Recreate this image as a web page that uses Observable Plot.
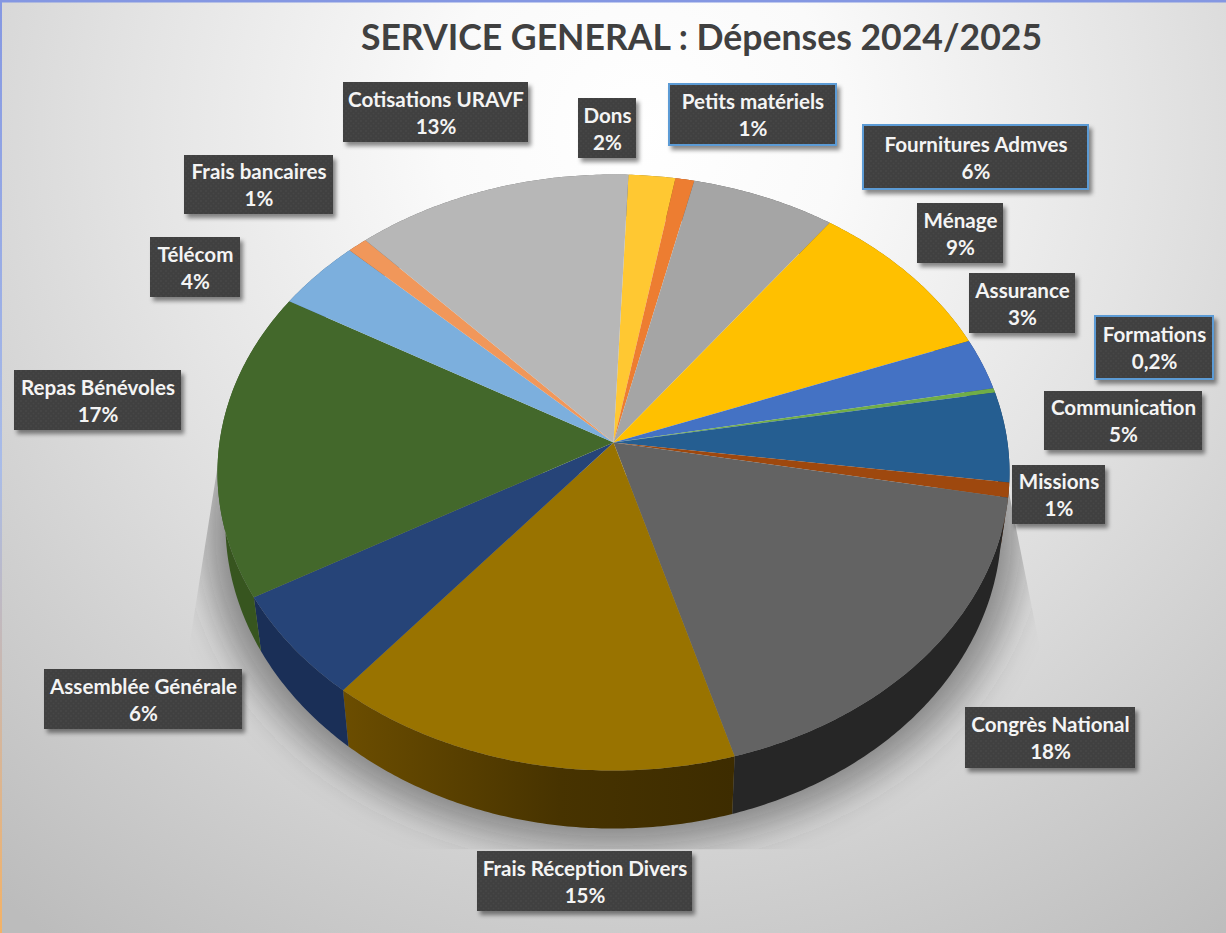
<!DOCTYPE html>
<html lang="fr">
<head>
<meta charset="utf-8">
<script src="https://cdn.jsdelivr.net/npm/d3@7"></script>
<script src="https://cdn.jsdelivr.net/npm/@observablehq/plot@0.6"></script>
<style>
html,body{margin:0;padding:0;background:#fff}
svg{display:block}
</style>
</head>
<body>
<div id="chart"></div>
<script>
// ---- Data (clockwise, starting with Dons) ----
const categories = ["Dons","Petits matériels","Fournitures Admves","Ménage","Assurance","Formations","Communication","Missions","Congrès National","Frais Réception Divers","Assemblée Générale","Repas Bénévoles","Télécom","Frais bancaires","Cotisations URAVF"];
const shares = [2.1,0.85,6.5,9.1,2.8,0.25,4.9,0.8,17.6,15.4,5.8,16.7,3.9,0.9,12.5];
const shareLabels = ["2%","1%","6%","9%","3%","0,2%","5%","1%","18%","15%","6%","17%","4%","1%","13%"];
const titleText = "SERVICE GENERAL : Dépenses 2024/2025";

// ---- Styles ----
const topColors = ["#ffc832","#ed7d31","#a5a5a5","#ffc000","#4472c4","#70ad47","#255e91","#9e480e","#636363","#997300","#264478","#43682b","#7cafdd","#f1975a","#b7b7b7"];
const wallColors = ["#8a6c1a","#8a4a1d","#5c5c5c","#8a6800","#27427a","#3f6328","#163a5c","#5e2a08","#262626","url(#wallFrais)","#1a2f57","#37551f","#486a87","#8a5734","#6a6a6a"];
const outlined = new Set(["Petits matériels","Fournitures Admves","Formations"]);

// ---- Layout: label box edges [left, top, right, bottom], in page pixels ----
const labelBoxes = [[578,98,636,158],[669,84,836,145],[863,125,1088,189],[917,203,1003,263],[969,273,1075,333],[1095,316,1213,379],[1044,391,1202,450],[1012,465,1105,524],[965,707,1135,768],[477,851,692,911],[44,669,242,729],[14,370,181,430],[150,237,240,297],[184,155,333,214],[343,82,528,142]];

// ---- Tilted-disc projection of the pie ----
const centre = {x:613, y:442}, a = 394, b = 295, k = 0.1007, startAngle = 2.4 * Math.PI / 180;
const rim = (t) => {
  const u = Math.sin(t), v = -Math.cos(t), w = 1 - k * v;
  return {v, x: centre.x + a * u / w, y: centre.y + b * v / w};
};
const lower = (t) => {
  const p = rim(t);
  return {x: centre.x + (p.x - centre.x) * 0.98, y: p.y + 50 + 8 * p.v};
};
const arcs = d3.pie().sort(null).startAngle(startAngle).endAngle(startAngle + 2 * Math.PI)(shares);
const steps = (s, e) => { const n = Math.max(2, Math.ceil((e - s) / 0.01)); return d3.range(n + 1).map(i => s + (e - s) * i / n); };

const topPts = [], wallPts = [];
arcs.forEach((d, i) => {
  const name = categories[i], ts = steps(d.startAngle, d.endAngle);
  topPts.push({name, x: centre.x, y: centre.y});
  ts.forEach(t => { const p = rim(t); topPts.push({name, x: p.x, y: p.y}); });
  ts.forEach(t => { const p = rim(t); wallPts.push({name, i, x: p.x, y: p.y}); });
  ts.slice().reverse().forEach(t => { const p = lower(t); wallPts.push({name, i, x: p.x, y: p.y}); });
});
const shadowPts = steps(0, 2 * Math.PI).map(t => {
  const p = lower(t);
  return {x: centre.x + (p.x - centre.x) * 1.05, y: centre.y + (p.y - centre.y) * 1.03 + 6};
});

const labels = categories.map((name, i) => {
  const [l, t, r, bt] = labelBoxes[i];
  return {name, l, t, r, b: bt, cx: (l + r) / 2, cy: (t + bt) / 2 - 1, text: name + "\n" + shareLabels[i]};
});

const withAttrs = (attrs) => (index, scales, values, dims, ctx, next) => {
  const g = next(index, scales, values, dims, ctx);
  for (const [k2, v] of Object.entries(attrs)) g.setAttribute(k2, v);
  return g;
};

const svg = Plot.plot({
  width: 1226, height: 933,
  margin: 0,
  x: {type: "linear", domain: [0, 1226], range: [0, 1226], axis: null},
  y: {type: "linear", domain: [0, 933], range: [0, 933], axis: null},
  color: {type: "ordinal", domain: categories, range: topColors},
  style: {background: "#fff", fontFamily: "Lato, sans-serif"},
  marks: [
    Plot.frame({fill: "url(#bg)", stroke: "none"}),
    Plot.line(shadowPts, {x: "x", y: "y", fill: "#3a3a3a", fillOpacity: 0.5, stroke: "none", render: withAttrs({filter: "url(#blurShadow)", "clip-path": "url(#shadowClip)"})}),
    Plot.line(wallPts, {x: "x", y: "y", z: "name", stroke: "none", fill: {value: d => wallColors[d.i], scale: null}}),
    Plot.line(topPts, {x: "x", y: "y", z: "name", stroke: "none", fill: "name"}),
    Plot.rect(labels, {x1: "l", x2: "r", y1: "t", y2: "b", fill: "url(#dots)", stroke: {value: d => outlined.has(d.name) ? "#5b9bd5" : "none", scale: null}, strokeWidth: 2, render: withAttrs({filter: "url(#boxShadow)"})}),
    Plot.text(labels, {x: "cx", y: "cy", text: "text", fill: "#f4f4f4", fontSize: 20.6, fontWeight: 700, lineHeight: 1.32, textAnchor: "middle"}),
    Plot.text([titleText], {x: () => 701, y: () => 38, text: d => d, fill: "#404040", fontSize: 35.6, fontWeight: 700, textAnchor: "middle"}),
    Plot.frame({anchor: "top", stroke: "#8497e2", strokeWidth: 4}),
    Plot.frame({anchor: "left", stroke: "url(#edge)", strokeWidth: 3})
  ]
});

const defs = document.createElementNS("http://www.w3.org/2000/svg", "defs");
defs.innerHTML = `
<radialGradient id="bg" gradientUnits="userSpaceOnUse" cx="640" cy="130" r="1000">
  <stop offset="0" stop-color="#ffffff"/><stop offset="0.2" stop-color="#fafafa"/>
  <stop offset="0.5" stop-color="#e4e4e4"/><stop offset="0.75" stop-color="#d0d0d0"/>
  <stop offset="1" stop-color="#bcbcbc"/>
</radialGradient>
<linearGradient id="edge" gradientUnits="userSpaceOnUse" x1="0" y1="0" x2="0" y2="933">
  <stop offset="0" stop-color="#8497e2"/><stop offset="0.5" stop-color="#a9bce8"/><stop offset="1" stop-color="#f4b266"/>
</linearGradient>
<linearGradient id="wallFrais" gradientUnits="userSpaceOnUse" x1="345" y1="0" x2="735" y2="0">
  <stop offset="0" stop-color="#6b4d00"/><stop offset="0.55" stop-color="#473300"/><stop offset="1" stop-color="#3d2c00"/>
</linearGradient>
<pattern id="dots" patternUnits="userSpaceOnUse" width="5" height="5">
  <rect width="5" height="5" fill="#3f3f3f"/>
  <circle cx="1" cy="1" r="0.9" fill="#474747"/>
  <circle cx="3.5" cy="3.5" r="0.9" fill="#474747"/>
</pattern>
<filter id="boxShadow" x="-10%" y="-10%" width="125%" height="130%">
  <feDropShadow dx="3" dy="4" stdDeviation="2" flood-color="#000" flood-opacity="0.45"/>
</filter>
<filter id="blurShadow" x="-10%" y="-10%" width="120%" height="120%">
  <feGaussianBlur stdDeviation="18"/>
</filter>
<clipPath id="shadowClip">
  <polygon points="218,460 188,650 150,849 1080,849 1040,650 1008,490"/>
</clipPath>`;
svg.insertBefore(defs, svg.firstChild);
document.getElementById("chart").appendChild(svg);
</script>
</body>
</html>
